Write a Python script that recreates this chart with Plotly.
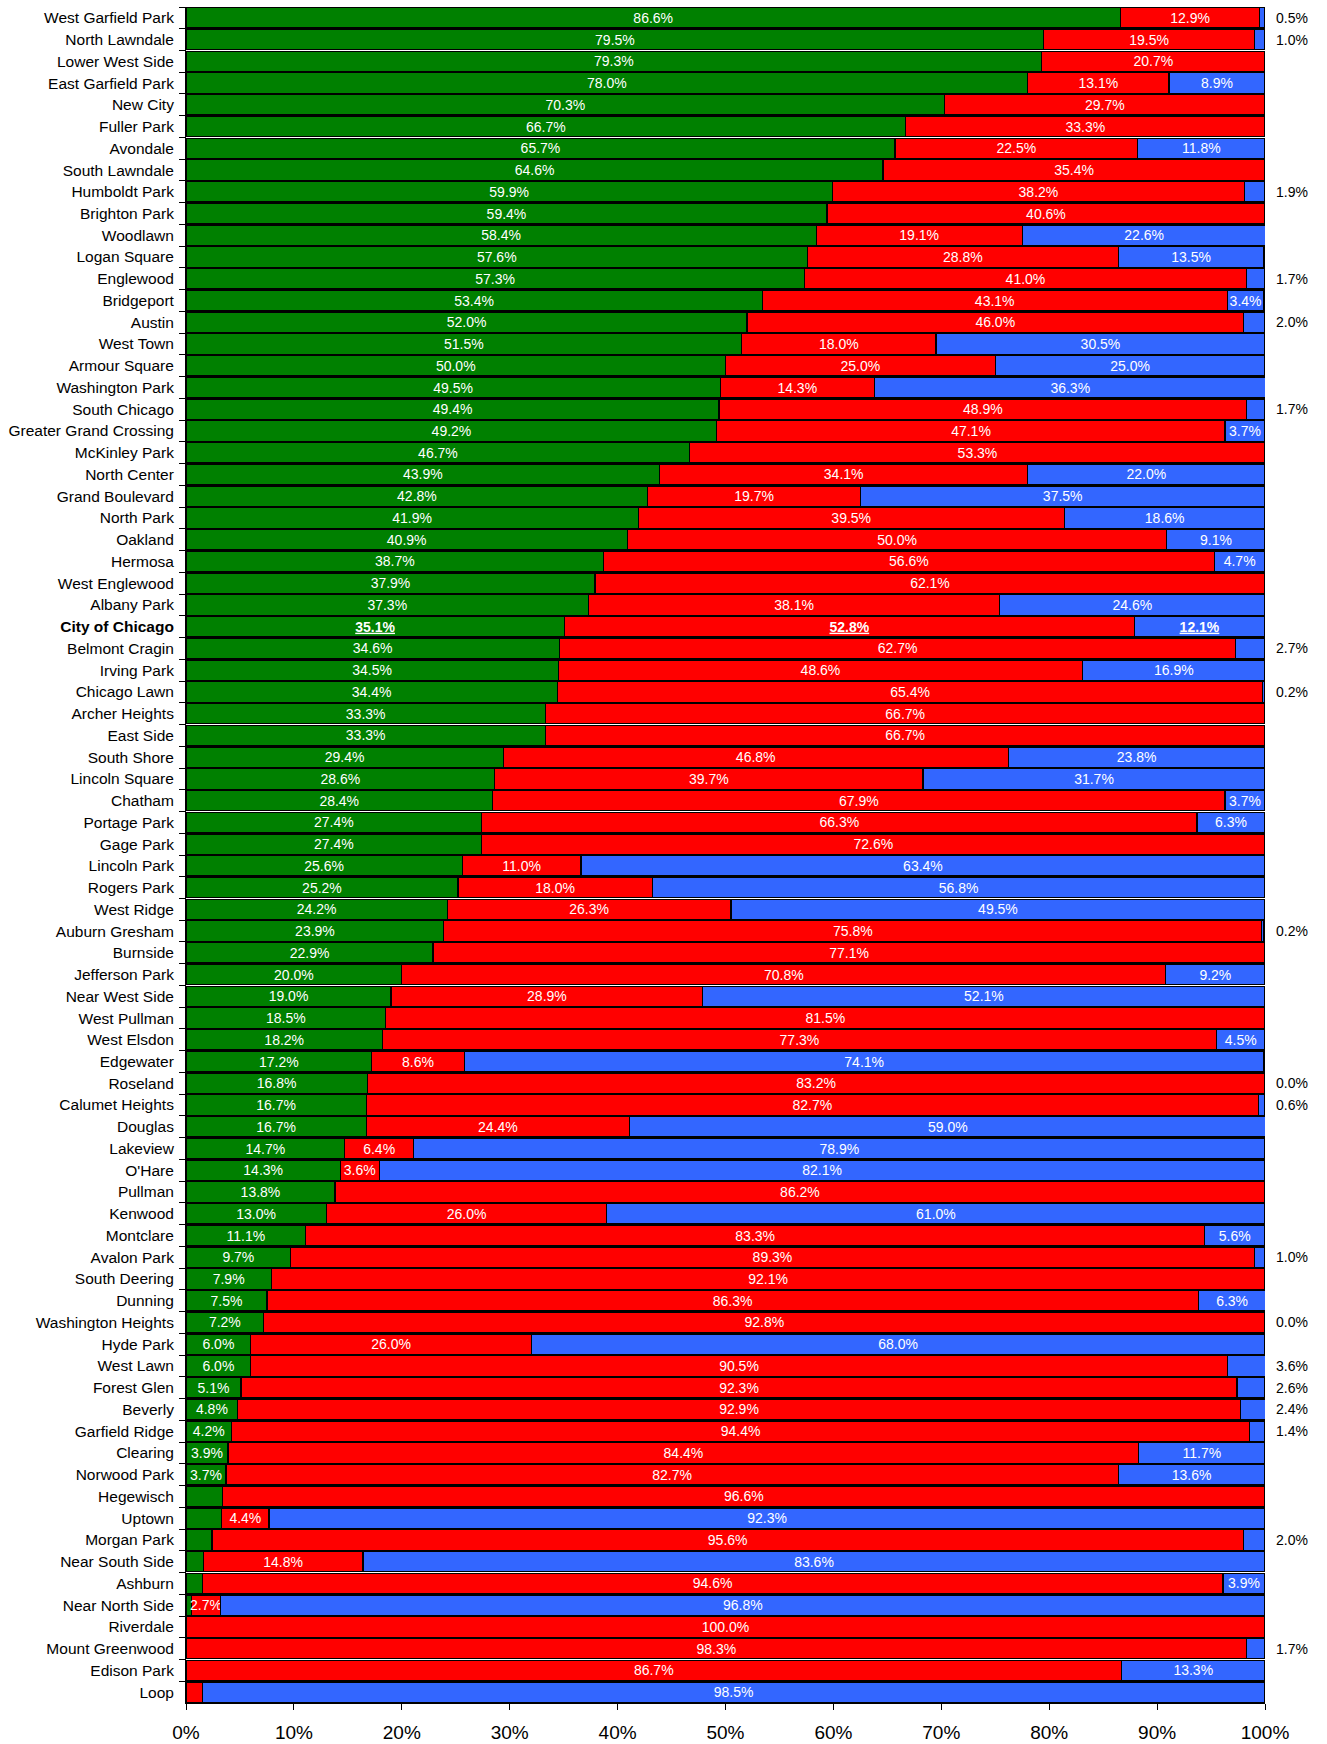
import plotly.graph_objects as go

categories = [
    "West Garfield Park", "North Lawndale", "Lower West Side", "East Garfield Park", "New City",
    "Fuller Park", "Avondale", "South Lawndale", "Humboldt Park", "Brighton Park",
    "Woodlawn", "Logan Square", "Englewood", "Bridgeport", "Austin",
    "West Town", "Armour Square", "Washington Park", "South Chicago", "Greater Grand Crossing",
    "McKinley Park", "North Center", "Grand Boulevard", "North Park", "Oakland",
    "Hermosa", "West Englewood", "Albany Park", "City of Chicago", "Belmont Cragin",
    "Irving Park", "Chicago Lawn", "Archer Heights", "East Side", "South Shore",
    "Lincoln Square", "Chatham", "Portage Park", "Gage Park", "Lincoln Park",
    "Rogers Park", "West Ridge", "Auburn Gresham", "Burnside", "Jefferson Park",
    "Near West Side", "West Pullman", "West Elsdon", "Edgewater", "Roseland",
    "Calumet Heights", "Douglas", "Lakeview", "O'Hare", "Pullman",
    "Kenwood", "Montclare", "Avalon Park", "South Deering", "Dunning",
    "Washington Heights", "Hyde Park", "West Lawn", "Forest Glen", "Beverly",
    "Garfield Ridge", "Clearing", "Norwood Park", "Hegewisch", "Uptown",
    "Morgan Park", "Near South Side", "Ashburn", "Near North Side", "Riverdale",
    "Mount Greenwood", "Edison Park", "Loop",
]

green = [
    86.6, 79.5, 79.3, 78.0, 70.3, 66.7, 65.7, 64.6, 59.9, 59.4,
    58.4, 57.6, 57.3, 53.4, 52.0, 51.5, 50.0, 49.5, 49.4, 49.2,
    46.7, 43.9, 42.8, 41.9, 40.9, 38.7, 37.9, 37.3, 35.1, 34.6,
    34.5, 34.4, 33.3, 33.3, 29.4, 28.6, 28.4, 27.4, 27.4, 25.6,
    25.2, 24.2, 23.9, 22.9, 20.0, 19.0, 18.5, 18.2, 17.2, 16.8,
    16.7, 16.7, 14.7, 14.3, 13.8, 13.0, 11.1, 9.7, 7.9, 7.5,
    7.2, 6.0, 6.0, 5.1, 4.8, 4.2, 3.9, 3.7, 3.4, 3.3,
    2.4, 1.6, 1.5, 0.5, 0.0, 0.0, 0.0, 0.0,
]

red = [
    12.9, 19.5, 20.7, 13.1, 29.7, 33.3, 22.5, 35.4, 38.2, 40.6,
    19.1, 28.8, 41.0, 43.1, 46.0, 18.0, 25.0, 14.3, 48.9, 47.1,
    53.3, 34.1, 19.7, 39.5, 50.0, 56.6, 62.1, 38.1, 52.8, 62.7,
    48.6, 65.4, 66.7, 66.7, 46.8, 39.7, 67.9, 66.3, 72.6, 11.0,
    18.0, 26.3, 75.8, 77.1, 70.8, 28.9, 81.5, 77.3, 8.6, 83.2,
    82.7, 24.4, 6.4, 3.6, 86.2, 26.0, 83.3, 89.3, 92.1, 86.3,
    92.8, 26.0, 90.5, 92.3, 92.9, 94.4, 84.4, 82.7, 96.6, 4.4,
    95.6, 14.8, 94.6, 2.7, 100.0, 98.3, 86.7, 1.5,
]

blue = [
    0.5, 1.0, 0.0, 8.9, 0.0, 0.0, 11.8, 0.0, 1.9, 0.0,
    22.6, 13.5, 1.7, 3.4, 2.0, 30.5, 25.0, 36.3, 1.7, 3.7,
    0.0, 22.0, 37.5, 18.6, 9.1, 4.7, 0.0, 24.6, 12.1, 2.7,
    16.9, 0.2, 0.0, 0.0, 23.8, 31.7, 3.7, 6.3, 0.0, 63.4,
    56.8, 49.5, 0.2, 0.0, 9.2, 52.1, 0.0, 4.5, 74.1, 0.0,
    0.6, 59.0, 78.9, 82.1, 0.0, 61.0, 5.6, 1.0, 0.0, 6.3,
    0.0, 68.0, 3.6, 2.6, 2.4, 1.4, 11.7, 13.6, 0.0, 92.3,
    2.0, 83.6, 3.9, 96.8, 0.0, 1.7, 13.3, 98.5,
]

# rows whose blue share is written outside the bar, to the right
blue_outside = [
    "West Garfield Park", "North Lawndale", "Humboldt Park", "Englewood", "Austin",
    "South Chicago", "Belmont Cragin", "Chicago Lawn", "Auburn Gresham", "Roseland",
    "Calumet Heights", "Avalon Park", "Washington Heights", "West Lawn", "Forest Glen",
    "Beverly", "Garfield Ridge", "Morgan Park", "Mount Greenwood",
]

highlight = "City of Chicago"
x_ticks = [0, 10, 20, 30, 40, 50, 60, 70, 80, 90, 100]

FONT = "Liberation Sans, Arial, sans-serif"

ylabels = [f"<b>{c}</b>" if c == highlight else c for c in categories]


def fmt(v, cat, show):
    if not show:
        return ""
    s = f"{v:.1f}%"
    if cat == highlight:
        s = f"<b><u>{s}</u></b>"
    return s


green_text = [fmt(v, c, v >= 3.6) for v, c in zip(green, categories)]
red_text = [fmt(v, c, v >= 2.5) for v, c in zip(red, categories)]
blue_text = [fmt(v, c, v >= 3.3 and c not in blue_outside) for v, c in zip(blue, categories)]

fig = go.Figure()
for vals, color, texts in [
    (green, "#008000", green_text),
    (red, "#FF0000", red_text),
    (blue, "#3366FF", blue_text),
]:
    fig.add_trace(go.Bar(
        y=ylabels, x=vals, orientation="h",
        marker=dict(color=color, line=dict(color="black", width=1.2)),
        text=texts, textposition="inside", insidetextanchor="middle",
        textfont=dict(color="white", size=14, family=FONT),
        constraintext="none", hoverinfo="skip",
    ))

annotations = []
for c, yl, b in zip(categories, ylabels, blue):
    if c in blue_outside:
        annotations.append(dict(
            x=100, y=yl, xref="x", yref="y", text=f"{b:.1f}%",
            showarrow=False, xanchor="left", xshift=9,
            font=dict(color="black", size=14, family=FONT),
        ))

fig.update_layout(
    template="none",
    barmode="stack",
    bargap=0.06,
    width=1327, height=1744,
    margin=dict(l=186, r=62, t=7, b=41),
    showlegend=False,
    plot_bgcolor="white", paper_bgcolor="white",
    annotations=annotations,
    font=dict(family=FONT, color="black"),
)
fig.update_xaxes(
    range=[0, 100], tickvals=x_ticks, ticktext=[f"{t}%" for t in x_ticks],
    ticks="outside", ticklen=6, tickcolor="black", tickwidth=1,
    showline=True, linecolor="black", linewidth=1,
    showgrid=False, zeroline=False, automargin=False,
    tickfont=dict(size=19, family=FONT, color="black"),
    ticklabelstandoff=6,
)
fig.update_yaxes(
    type="category", autorange="reversed", tickson="boundaries",
    ticks="outside", ticklen=6, tickcolor="black", tickwidth=1,
    showline=True, linecolor="black", linewidth=1,
    showgrid=False, zeroline=False, automargin=False,
    tickfont=dict(size=15.5, family=FONT, color="black"),
    ticklabelstandoff=8,
)

fig.write_html(
    "out.html",
    config={"displayModeBar": False},
    post_script="document.body.style.margin='0px';document.body.style.overflow='hidden';",
)
